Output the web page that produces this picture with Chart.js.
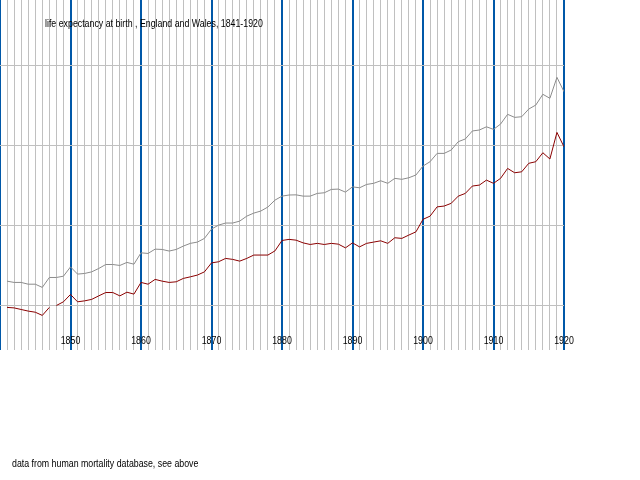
<!DOCTYPE html>
<html>
<head>
<meta charset="utf-8">
<script src="https://cdn.jsdelivr.net/npm/chart.js@4"></script>
<style>
body { margin: 0; background: #fff; }
canvas { display: block; }
</style>
</head>
<body>
<canvas id="c" width="640" height="480"></canvas>
<script>
let years = [];
for (let y = 1841; y <= 1920; y++) years.push(y);

let females = [41.50,41.42,41.42,41.31,41.31,41.11,41.73,41.73,41.81,42.39,
41.94,41.98,42.08,42.29,42.54,42.54,42.48,42.67,42.56,43.27,
43.23,43.50,43.48,43.38,43.48,43.69,43.86,43.94,44.17,44.75,
45.00,45.13,45.13,45.25,45.56,45.75,45.88,46.13,46.56,46.81,
46.88,46.89,46.81,46.81,46.98,47.02,47.23,47.25,47.06,47.39,
47.33,47.54,47.61,47.77,47.61,47.92,47.86,47.96,48.13,48.69,
48.96,49.48,49.48,49.69,50.21,50.38,50.88,50.94,51.14,50.98,
51.31,51.92,51.73,51.77,52.25,52.50,53.17,52.92,54.23,53.33];

let males = [39.86,39.83,39.73,39.63,39.56,39.36,39.86,39.98,40.21,40.67,
40.21,40.27,40.36,40.58,40.79,40.79,40.58,40.81,40.69,41.42,
41.31,41.61,41.50,41.42,41.46,41.67,41.77,41.88,42.08,42.64,
42.71,42.92,42.86,42.75,42.92,43.13,43.13,43.13,43.39,44.04,
44.11,44.06,43.89,43.79,43.86,43.79,43.86,43.81,43.58,43.89,
43.64,43.86,43.94,44.02,43.86,44.21,44.17,44.38,44.58,45.36,
45.56,46.14,46.19,46.36,46.81,46.98,47.44,47.50,47.81,47.61,
47.92,48.54,48.27,48.33,48.86,48.96,49.52,49.13,50.79,49.89];

let gridValues = [40, 45, 50, 55];
let decadeLabels = [1850, 1860, 1870, 1880, 1890, 1900, 1910, 1920];

function toPoints(vals) {
    let pts = [];
    for (let i = 0; i < vals.length; i++) pts.push({x: years[i], y: vals[i]});
    return pts;
}

// narrow text, like the original's bitmap font
function narrowText(ctx, txt, x, y, align) {
    let sx = 0.8;
    ctx.save();
    ctx.scale(sx, 1);
    ctx.textAlign = align;
    ctx.fillText(txt, x / sx, y);
    ctx.restore();
}

const textPlugin = {
    id: 'texts',
    afterDraw(chart) {
        let ctx = chart.ctx;
        let xs = chart.scales.x;
        ctx.save();
        ctx.fillStyle = '#000';
        ctx.font = '11px "Liberation Sans", sans-serif';
        ctx.textBaseline = 'middle';
        narrowText(ctx, 'life expectancy at birth , England and Wales, 1841-1920', 45, 24, 'left');
        narrowText(ctx, 'data from human mortality database, see above', 12, 464, 'left');
        for (let i = 0; i < decadeLabels.length; i++) {
            narrowText(ctx, String(decadeLabels[i]), xs.getPixelForValue(decadeLabels[i]), 341, 'center');
        }
        ctx.restore();
    }
};

new Chart(document.getElementById('c'), {
    type: 'line',
    data: {
        datasets: [{
            data: toPoints(females),
            borderColor: '#8c8c8c',
            borderWidth: 1,
            pointRadius: 0,
            tension: 0
        }, {
            data: toPoints(males),
            borderColor: '#8b0000',
            borderWidth: 1,
            pointRadius: 0,
            tension: 0,
            segment: {
                borderColor: c => c.p0DataIndex === 6 ? 'rgba(0,0,0,0)' : '#8b0000'
            }
        }]
    },
    options: {
        responsive: false,
        animation: false,
        layout: { padding: { left: 0, right: 76, top: 0, bottom: 130 } },
        plugins: { legend: { display: false }, tooltip: { enabled: false } },
        scales: {
            x: {
                type: 'linear',
                min: 1840,
                max: 1920,
                ticks: { display: false, stepSize: 1 },
                border: { display: false },
                grid: {
                    drawTicks: false,
                    color: c => (c.tick && c.tick.value % 10 === 0) ? '#0058a8' : '#c0c0c0',
                    lineWidth: c => (c.tick && c.tick.value % 10 === 0) ? 2 : 1
                }
            },
            y: {
                min: 37.2,
                max: 59.06,
                afterBuildTicks: s => { s.ticks = gridValues.map(v => ({value: v})); },
                ticks: { display: false },
                border: { display: false },
                grid: { drawTicks: false, color: '#c0c0c0', lineWidth: 1 }
            }
        }
    },
    plugins: [textPlugin]
});
</script>
</body>
</html>
